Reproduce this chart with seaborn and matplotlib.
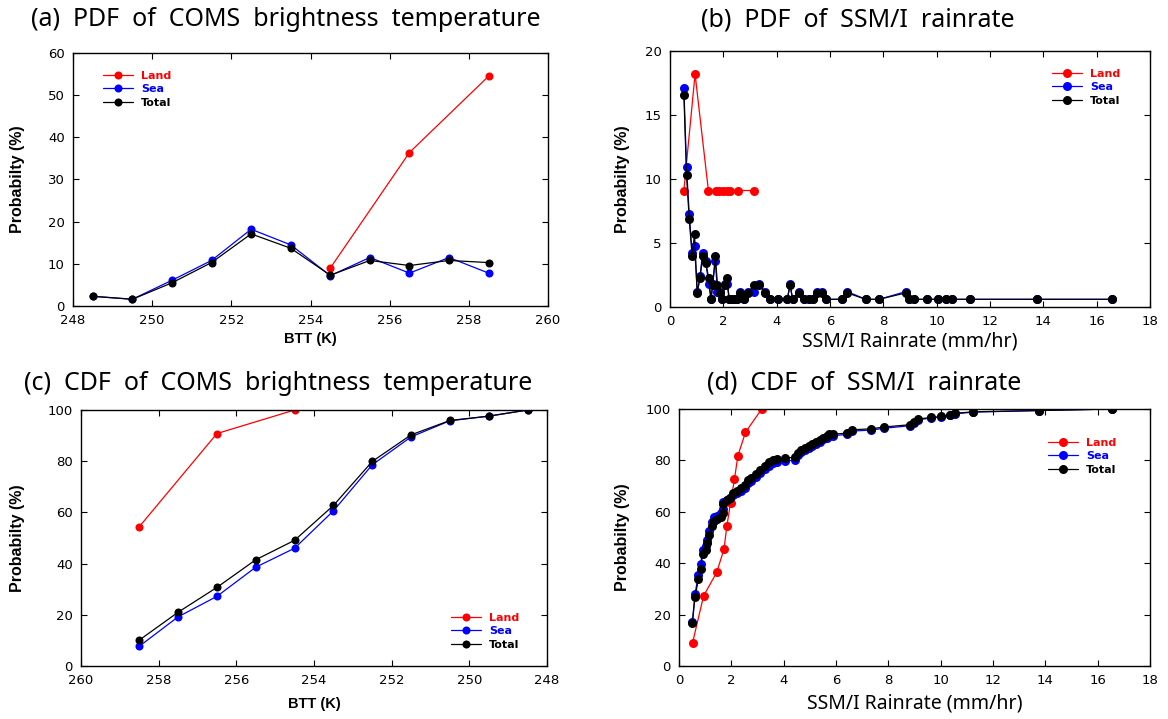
import numpy as np
import pandas as pd
import matplotlib
matplotlib.use("Agg")
import matplotlib.pyplot as plt
import seaborn as sns

# ---------------- data ----------------
btt_pdf = [248.5, 249.5, 250.5, 251.5, 252.5, 253.5, 254.5, 255.5, 256.5, 257.5, 258.5]
pdf_btt_sea = [2.3, 1.6, 6.1, 10.8, 18.2, 14.5, 7.2, 11.5, 7.8, 11.5, 7.8]
pdf_btt_total = [2.3, 1.6, 5.5, 10.3, 17.1, 13.7, 7.3, 10.8, 9.6, 10.8, 10.3]
btt_land = [254.5, 256.5, 258.5]
pdf_btt_land = [9.0, 36.4, 54.5]

btt_cdf = [258.5, 257.5, 256.5, 255.5, 254.5, 253.5, 252.5, 251.5, 250.5, 249.5, 248.5]
cdf_btt_sea = [7.7, 19.2, 27.2, 38.6, 46.0, 60.6, 78.6, 89.5, 95.8, 97.6, 100.0]
cdf_btt_total = [10.1, 21.0, 30.7, 41.5, 49.1, 62.7, 79.9, 90.3, 95.9, 97.6, 100.0]
btt_land_cdf = [258.5, 256.5, 254.5]
cdf_btt_land = [54.4, 90.8, 100.0]

rain_land = [0.52, 0.94, 1.44, 1.72, 1.83, 1.97, 2.12, 2.25, 2.54, 3.16]
pdf_rain_land = [9.1, 18.2, 9.1, 9.1, 9.1, 9.1, 9.1, 9.1, 9.1, 9.1]
cdf_rain_land = [9.1, 27.3, 36.4, 45.5, 54.5, 63.6, 72.7, 81.8, 90.9, 100.0]

pdf_rain = [0.52, 0.62, 0.72, 0.83, 0.92, 1.02, 1.13, 1.22, 1.34, 1.45,
            1.54, 1.60, 1.70, 1.78, 1.86, 1.95, 2.07, 2.14, 2.22, 2.30,
            2.40, 2.51, 2.64, 2.76, 2.93, 3.14, 3.35, 3.57, 3.76, 4.05,
            4.40, 4.50, 4.60, 4.85, 5.03, 5.20, 5.37, 5.53, 5.69, 5.84,
            6.44, 6.65, 7.34, 7.84, 8.84, 8.98, 9.15, 9.65, 10.04, 10.35,
            10.59, 11.25, 13.75, 16.56]
pdf_rain_total = [16.6, 10.3, 6.9, 4.0, 5.7, 1.1, 2.3, 4.0, 3.4, 2.3,
                  0.6, 1.7, 4.0, 1.7, 1.1, 0.6, 1.7, 2.3, 0.6, 0.6,
                  0.6, 0.6, 1.1, 0.6, 1.1, 1.7, 1.7, 1.1, 0.6, 0.6,
                  0.6, 1.7, 0.6, 1.1, 0.6, 0.6, 0.6, 1.1, 1.1, 0.6,
                  0.6, 1.1, 0.6, 0.6, 1.1, 0.6, 0.6, 0.6, 0.6, 0.6,
                  0.6, 0.6, 0.6, 0.6]
pdf_rain_sea = [17.1, 10.9, 7.3, 4.2, 4.8, 1.2, 2.4, 4.2, 3.6, 1.8,
                0.6, 1.8, 3.6, 1.2, 1.2, 0.6, 1.8, 1.8, 0.6, 0.6,
                0.6, 0.6, 1.2, 0.6, 1.2, 1.2, 1.8, 1.2, 0.6, 0.6,
                0.6, 1.8, 0.6, 1.2, 0.6, 0.6, 0.6, 1.2, 1.2, 0.6,
                0.6, 1.2, 0.6, 0.6, 1.2, 0.6, 0.6, 0.6, 0.6, 0.6,
                0.6, 0.6, 0.6, 0.6]

cdf_rain = [0.51, 0.61, 0.74, 0.83, 0.90, 1.02, 1.06, 1.16, 1.25, 1.34,
            1.46, 1.59, 1.67, 1.69, 1.82, 1.95, 2.07, 2.23, 2.37, 2.52,
            2.65, 2.77, 2.93, 3.09, 3.28, 3.44, 3.60, 3.75, 4.05, 4.45,
            4.55, 4.68, 4.81, 4.96, 5.10, 5.25, 5.38, 5.51, 5.64, 5.74,
            5.87, 6.43, 6.62, 7.35, 7.84, 8.84, 8.97, 9.13, 9.64, 10.03,
            10.34, 10.53, 11.25, 13.75, 16.56]
cdf_rain_total = [16.6, 26.7, 33.7, 37.7, 43.6, 45.1, 47.7, 51.0, 54.5, 56.3,
                  57.2, 58.1, 59.4, 63.1, 64.6, 65.5, 67.2, 68.1, 69.2, 70.5,
                  72.2, 73.1, 74.8, 76.3, 77.9, 79.2, 80.2, 80.6, 80.9, 81.2,
                  82.8, 84.1, 85.0, 85.7, 86.5, 87.1, 88.0, 88.9, 89.6, 90.2,
                  90.2, 90.6, 91.9, 92.3, 93.0, 93.9, 94.8, 96.1, 96.7, 97.1,
                  97.8, 98.3, 98.9, 99.4, 100.0]
cdf_rain_sea = [17.1, 27.9, 35.4, 39.7, 45.3, 46.6, 49.0, 52.5, 55.9, 57.8,
                58.4, 59.6, 60.9, 64.0, 64.6, 65.2, 66.5, 67.2, 68.1, 69.4,
                71.1, 72.0, 73.6, 75.2, 76.7, 78.0, 79.0, 79.5, 79.9, 80.0,
                82.0, 83.3, 84.2, 84.9, 85.7, 86.4, 87.3, 88.2, 88.9, 89.6,
                89.6, 90.1, 91.4, 91.8, 92.5, 93.5, 94.4, 95.8, 96.5, 96.9,
                97.6, 98.1, 98.8, 99.4, 100.0]

titles = ["(a)  PDF  of  COMS  brightness  temperature",
          "(b)  PDF  of  SSM/I  rainrate",
          "(c)  CDF  of  COMS  brightness  temperature",
          "(d)  CDF  of  SSM/I  rainrate"]
ylabel = "Probabilty (%)"
xlabel_btt = "BTT (K)"
xlabel_rain = "SSM/I Rainrate (mm/hr)"
series_names = ["Land", "Sea", "Total"]
series_colors = {"Land": "#ff0000", "Sea": "#0000ff", "Total": "#000000"}

# ---------------- style ----------------
sns.set_theme(style="ticks")
plt.rcParams["font.family"] = ["Liberation Sans", "DejaVu Sans"]
plt.rcParams["text.color"] = "black"
plt.rcParams["axes.labelcolor"] = "black"
plt.rcParams["xtick.direction"] = "in"
plt.rcParams["ytick.direction"] = "in"

W, H = 1168, 719
fig = plt.figure(figsize=(W / 100, H / 100), dpi=100)


def add_ax(l, t, r, b):
    return fig.add_axes([l / W, 1 - b / H, (r - l) / W, (b - t) / H])


axa = add_ax(73, 53, 548, 306)
axb = add_ax(670, 51, 1150, 307)
axc = add_ax(81, 410, 547, 666)
axd = add_ax(679, 409, 1150, 666)


def draw(ax, xs, ys, name, ms):
    df = pd.DataFrame({"x": xs, "y": ys})
    sns.lineplot(data=df, x="x", y="y", ax=ax, color=series_colors[name],
                 marker="o", markersize=ms, markeredgewidth=0, linewidth=0.9,
                 sort=False, estimator=None, label=name)


draw(axa, btt_land, pdf_btt_land, "Land", 5.8)
draw(axa, btt_pdf, pdf_btt_sea, "Sea", 5.8)
draw(axa, btt_pdf, pdf_btt_total, "Total", 5.8)

draw(axb, rain_land, pdf_rain_land, "Land", 6.5)
draw(axb, pdf_rain, pdf_rain_sea, "Sea", 6.5)
draw(axb, pdf_rain, pdf_rain_total, "Total", 6.5)

draw(axc, btt_land_cdf, cdf_btt_land, "Land", 5.8)
draw(axc, btt_cdf, cdf_btt_sea, "Sea", 5.8)
draw(axc, btt_cdf, cdf_btt_total, "Total", 5.8)

draw(axd, rain_land, cdf_rain_land, "Land", 6.5)
draw(axd, cdf_rain, cdf_rain_sea, "Sea", 6.5)
draw(axd, cdf_rain, cdf_rain_total, "Total", 6.5)

axa.set_xlim(248, 260); axa.set_xticks(np.arange(248, 261, 2))
axa.set_ylim(0, 60); axa.set_yticks(np.arange(0, 61, 10))
axb.set_xlim(0, 18); axb.set_xticks(np.arange(0, 19, 2))
axb.set_ylim(0, 20); axb.set_yticks(np.arange(0, 21, 5))
axc.set_xlim(260, 248); axc.set_xticks(np.arange(248, 261, 2))
axc.set_ylim(0, 100); axc.set_yticks(np.arange(0, 101, 20))
axd.set_xlim(0, 18); axd.set_xticks(np.arange(0, 19, 2))
axd.set_ylim(0, 100); axd.set_yticks(np.arange(0, 101, 20))

legend_pos = {axa: (103, 71), axb: (1052, 69), axc: (451, 613), axd: (1048, 438)}
ylabel_x = {axa: 18, axb: 622, axc: 18, axd: 622}
xlabel_y = {axa: 339, axb: 341, axc: 704, axd: 704}

for ax in (axa, axb, axc, axd):
    for s in ax.spines.values():
        s.set_visible(True)
        s.set_color("black")
        s.set_linewidth(1.0)
    ax.tick_params(axis="both", which="major", direction="in", length=4,
                   width=0.8, top=True, right=True, labelsize=9.5, pad=6,
                   colors="black")
    for lab in ax.get_xticklabels() + ax.get_yticklabels():
        lab.set_family(["DejaVu Sans"])
    ax.set_ylabel(ylabel, fontsize=11.5, fontweight="bold")
    pos = ax.get_position()
    ax.yaxis.set_label_coords(ylabel_x[ax] / W, (pos.y0 + pos.y1) / 2,
                              transform=fig.transFigure)
    lx, ly = legend_pos[ax]
    leg = ax.legend(loc="upper left", bbox_to_anchor=(lx / W, 1 - ly / H),
                    bbox_transform=fig.transFigure, frameon=False,
                    borderpad=0, borderaxespad=0, handlelength=2.7,
                    handletextpad=0.7, labelspacing=0.3, numpoints=1,
                    prop={"size": 8, "weight": "bold", "family": "DejaVu Sans"})
    for txt, name in zip(leg.get_texts(), series_names):
        txt.set_color(series_colors[name])

for ax in (axa, axc):
    ax.set_xlabel(xlabel_btt, fontsize=10.5, fontweight="bold")
for ax in (axb, axd):
    ax.set_xlabel(xlabel_rain, fontsize=14, family=["Noto Sans", "DejaVu Sans"])
for ax in (axa, axb, axc, axd):
    pos = ax.get_position()
    ax.xaxis.set_label_coords((pos.x0 + pos.x1) / 2, 1 - xlabel_y[ax] / H,
                              transform=fig.transFigure)
    ax.xaxis.label.set_verticalalignment("center")
    ax.yaxis.label.set_verticalalignment("center")

title_pos = [(286, 20), (858, 20), (278, 383), (864, 383)]
for t, (x, y) in zip(titles, title_pos):
    fig.text(x / W, 1 - y / H, t, ha="center", va="center", fontsize=18,
             color="black", family=["Noto Sans", "DejaVu Sans"])

fig.savefig("out.png", dpi=100)
